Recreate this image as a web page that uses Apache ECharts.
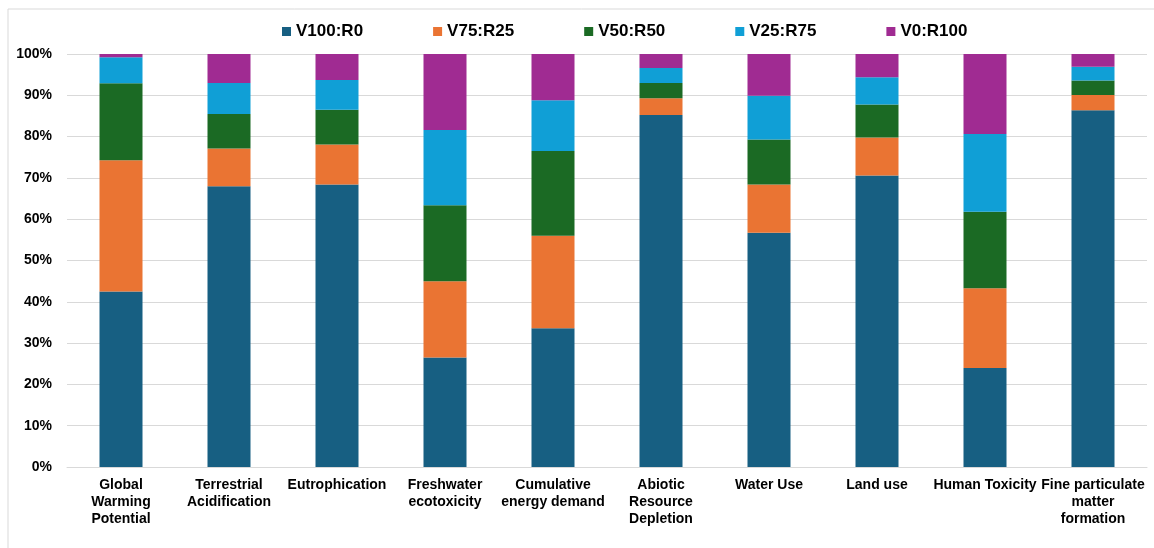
<!DOCTYPE html>
<html>
<head>
<meta charset="utf-8">
<script src="https://cdn.jsdelivr.net/npm/echarts@6/dist/echarts.min.js"></script>
<style>
  html, body { margin: 0; padding: 0; background: #fff; }
  #chart { width: 1154px; height: 548px; }
</style>
</head>
<body>
<div id="chart"></div>
<script>
// categories (x axis)
var categories = ['Global\nWarming\nPotential', 'Terrestrial\nAcidification', 'Eutrophication',
  'Freshwater\necotoxicity', 'Cumulative\nenergy demand', 'Abiotic\nResource\nDepletion',
  'Water Use', 'Land use', 'Human Toxicity', 'Fine particulate\nmatter\nformation'];

// shares per mix, in %
var v100r0 = [42.5, 68.0, 68.4, 26.5, 33.6, 85.2, 56.7, 70.6, 24.0, 86.4];
var v75r25 = [31.8, 9.1, 9.7, 18.5, 22.4, 4.1, 11.7, 9.2, 19.3, 3.7];
var v50r50 = [18.6, 8.4, 8.4, 18.4, 20.5, 3.7, 10.9, 8.0, 18.5, 3.5];
var v25r75 = [6.3, 7.5, 7.2, 18.2, 12.3, 3.6, 10.6, 6.6, 18.8, 3.3];
var v0r100 = [0.8, 7.0, 6.3, 18.4, 11.2, 3.4, 10.1, 5.6, 19.4, 3.1];

var names = ['V100:R0', 'V75:R25', 'V50:R50', 'V25:R75', 'V0:R100'];
var colors = ['#175f82', '#ea7433', '#1b6a24', '#109fd6', '#a02b92'];

var chart = echarts.init(document.getElementById('chart'));

var seriesData = [v100r0, v75r25, v50r50, v25r75, v0r100];
var series = names.map(function (n, i) {
  return {
    name: n,
    type: 'bar',
    stack: 'total',
    barWidth: 43,
    itemStyle: { color: colors[i] },
    data: seriesData[i]
  };
});

chart.setOption({
  animation: false,
  color: colors,
  graphic: [{
    type: 'rect',
    shape: { x: 8, y: 9, width: 1200, height: 600 },
    style: { fill: 'none', stroke: '#d9d9d9', lineWidth: 1 },
    silent: true
  }],
  legend: {
    data: names,
    left: 277,
    top: 18,
    itemWidth: 9,
    itemHeight: 9,
    itemGap: 70,
    icon: 'rect',
    textStyle: { fontFamily: 'Liberation Sans', fontSize: 17, fontWeight: 'bold', color: '#000' }
  },
  grid: { left: 67, right: 7, top: 54, bottom: 81 },
  xAxis: {
    type: 'category',
    data: categories,
    axisTick: { show: false },
    axisLine: { lineStyle: { color: '#d9d9d9', width: 1 } },
    axisLabel: {
      interval: 0,
      margin: 10,
      fontFamily: 'Liberation Sans',
      fontSize: 14,
      fontWeight: 'bold',
      color: '#000',
      lineHeight: 17
    }
  },
  yAxis: {
    type: 'value',
    min: 0,
    max: 100,
    interval: 10,
    axisLine: { show: false },
    axisTick: { show: false },
    splitLine: { lineStyle: { color: '#d9d9d9', width: 1 } },
    axisLabel: {
      formatter: '{value}%',
      margin: 15,
      fontFamily: 'Liberation Sans',
      fontSize: 14,
      fontWeight: 'bold',
      color: '#000'
    }
  },
  series: series
});
</script>
</body>
</html>
